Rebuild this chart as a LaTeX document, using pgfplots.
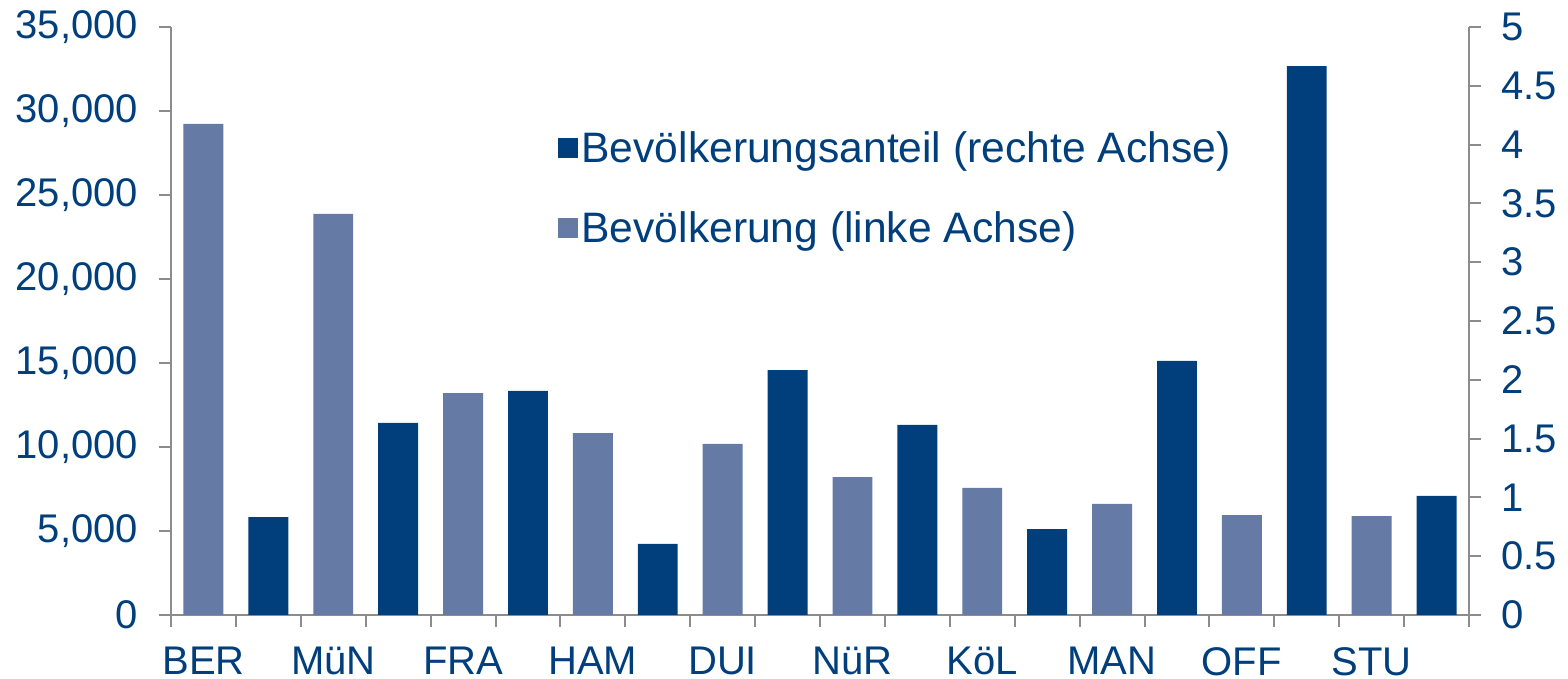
\documentclass[border=0pt]{standalone}
\usepackage{pgfplots}
\pgfplotsset{compat=1.18}
\usepackage{fontspec}
\setmainfont{Liberation Sans}
\definecolor{darkb}{RGB}{0,62,124}
\definecolor{lightb}{RGB}{102,122,166}
\definecolor{txt}{RGB}{0,62,124}
\definecolor{axgray}{RGB}{140,140,140}
\begin{document}
\begin{tikzpicture}
\pgfplotsset{
  common/.style={
    scale only axis, width=649pt, height=294pt,
    xmin=-0.5, xmax=19.5, ymin=0,
    axis line style={axgray, line width=1pt},
    tick style={axgray, line width=1pt},
    tick align=outside,
    major tick length=6pt,
    ticklabel style={font=\fontsize{20}{24}\selectfont, text=txt},
    /pgf/number format/assume math mode=true,
    ybar, bar width=0.615,
  }
}
\begin{axis}[common, name=ax,
  axis y line*=left, axis x line*=bottom,
  ymax=35000, ytick={0,5000,...,35000},
  scaled y ticks=false,
  yticklabel style={/pgf/number format/1000 sep={,}, xshift=-7pt},
  xtick={-0.5,0.5,...,19.5},
  x tick label as interval,
  xticklabels={BER,{},MüN,{},FRA,{},HAM,{},DUI,{},NüR,{},KöL,{},MAN,{},OFF,{},STU,{}},
  xticklabel style={inner sep=0pt, yshift=-10pt},
]
\addplot[fill=lightb, draw=none] coordinates {
(0,29230) (2,23870) (4,13210) (6,10830) (8,10180)
(10,8210) (12,7560) (14,6610) (16,5950) (18,5890)};
\end{axis}
\begin{axis}[common,
  axis y line*=right, axis x line=none,
  ymax=5, ytick={0,0.5,...,5},
  yticklabel style={/pgf/number format/fixed, xshift=6.5pt},
  legend style={draw=none, fill=none, at={(0.2975,0.83)}, anchor=north west,
    font=\fontsize{21.3}{25}\selectfont, text=txt, row sep=19pt, inner sep=0pt},
  legend cell align=left,
  legend image code/.code={\path[#1] (-3.5pt,-5pt) rectangle (6.5pt,5pt);},
]
\addplot[fill=darkb, draw=none] coordinates {
(1,0.833) (3,1.633) (5,1.905) (7,0.604) (9,2.083)
(11,1.616) (13,0.731) (15,2.16) (17,4.668) (19,1.012)};
\addlegendentry{Bevölkerungsanteil (rechte Achse)}
\addlegendimage{fill=lightb, draw=none}
\addlegendentry{Bevölkerung (linke Achse)}
\end{axis}
\pgfresetboundingbox
\path ([shift={(-85.5pt,-32pt)}]ax.south west) rectangle ([shift={(49.5pt,13.5pt)}]ax.north east);
\end{tikzpicture}
\end{document}
